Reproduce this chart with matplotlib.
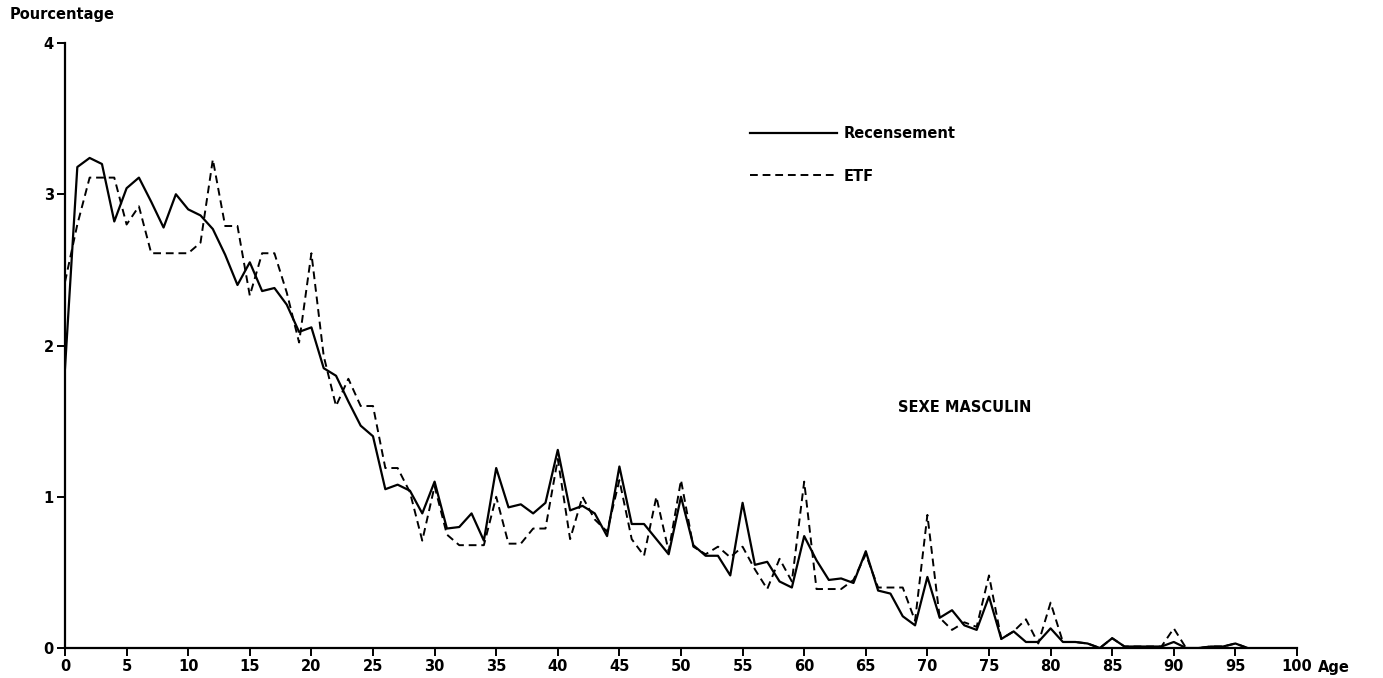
import matplotlib
matplotlib.use("Agg")
import matplotlib.pyplot as plt

# Répartition par âge (en %), sexe masculin
ages = list(range(0, 97))

recensement = [
    1.85, 3.18, 3.24, 3.20, 2.82, 3.04, 3.11, 2.95, 2.78, 3.00,
    2.90, 2.86, 2.77, 2.60, 2.40, 2.55, 2.36, 2.38, 2.27, 2.09,
    2.12, 1.85, 1.80, 1.63, 1.47, 1.40, 1.05, 1.08, 1.04, 0.89,
    1.10, 0.79, 0.80, 0.89, 0.71, 1.19, 0.93, 0.95, 0.89, 0.96,
    1.31, 0.91, 0.94, 0.89, 0.74, 1.20, 0.82, 0.82, 0.72, 0.62,
    1.00, 0.68, 0.61, 0.61, 0.48, 0.96, 0.55, 0.57, 0.44, 0.40,
    0.74, 0.58, 0.45, 0.46, 0.43, 0.64, 0.38, 0.36, 0.21, 0.15,
    0.47, 0.20, 0.25, 0.15, 0.12, 0.34, 0.06, 0.11, 0.04, 0.04,
    0.13, 0.04, 0.04, 0.03, 0.00, 0.065, 0.01, 0.01, 0.01, 0.01,
    0.04, 0.00, 0.00, 0.01, 0.01, 0.03, 0.00,
]

etf = [
    2.42, 2.80, 3.11, 3.11, 3.11, 2.80, 2.92, 2.61, 2.61, 2.61,
    2.61, 2.68, 3.23, 2.79, 2.79, 2.33, 2.61, 2.61, 2.35, 2.02,
    2.61, 1.93, 1.60, 1.78, 1.60, 1.60, 1.19, 1.19, 1.03, 0.71,
    1.07, 0.75, 0.68, 0.68, 0.68, 1.00, 0.69, 0.69, 0.79, 0.79,
    1.25, 0.72, 1.00, 0.85, 0.77, 1.11, 0.72, 0.61, 1.00, 0.64,
    1.11, 0.67, 0.62, 0.67, 0.60, 0.67, 0.52, 0.39, 0.59, 0.44,
    1.10, 0.39, 0.39, 0.39, 0.45, 0.62, 0.40, 0.40, 0.40, 0.18,
    0.88, 0.20, 0.12, 0.17, 0.14, 0.48, 0.06, 0.11, 0.19, 0.03,
    0.30, 0.04, 0.04, 0.03, 0.00, 0.065, 0.01, 0.01, 0.01, 0.01,
    0.13, 0.00, 0.00, 0.01, 0.01, 0.03, 0.00,
]

x_ticks = list(range(0, 101, 5))
y_ticks = [0, 1, 2, 3, 4]

plt.rcParams['font.family'] = ['DejaVu Sans']
plt.rcParams['font.weight'] = 'bold'
plt.rcParams['font.size'] = 10.5

fig = plt.figure(figsize=(13.83, 6.78), dpi=100)
ax = fig.add_axes([0.047, 0.0442, 0.8908, 0.8924])

ax.plot(ages, recensement, color='black', lw=1.6, label='Recensement')
ax.plot(ages, etf, color='black', lw=1.4, dashes=(4, 2.5), label='ETF')

ax.set_xlim(0, 100)
ax.set_ylim(0, 4)
ax.set_xticks(x_ticks)
ax.set_yticks(y_ticks)
ax.tick_params(direction='out', length=6, width=1.4, colors='black', pad=2)
for s in ['top', 'right']:
    ax.spines[s].set_visible(False)
for s in ['left', 'bottom']:
    ax.spines[s].set_linewidth(1.6)

fig.text(0.007, 0.978, 'Pourcentage', ha='left', va='center', fontweight='bold')
fig.text(0.953, 0.015, 'Age', ha='left', va='center', fontweight='bold')
ax.text(0.676, 0.397, 'SEXE MASCULIN', transform=ax.transAxes,
        ha='left', va='center', fontweight='bold')

ax.legend(loc='upper left', bbox_to_anchor=(0.556, 0.863), frameon=False,
          borderaxespad=0, borderpad=0, handlelength=6.0, handletextpad=0.4,
          labelspacing=1.9)

fig.savefig('out.png', dpi=100)
